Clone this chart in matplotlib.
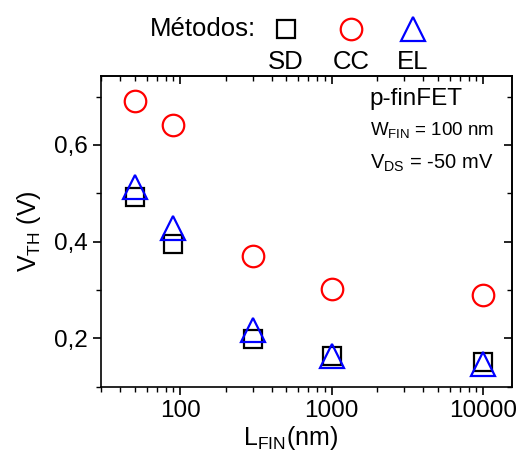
import numpy as np
import matplotlib.pyplot as plt
from matplotlib.ticker import FixedLocator, FuncFormatter, NullFormatter

plt.rcParams['font.family'] = ['Liberation Sans', 'DejaVu Sans']
plt.rcParams['mathtext.fontset'] = 'custom'
plt.rcParams['mathtext.rm'] = 'Liberation Sans'
plt.rcParams['mathtext.it'] = 'Liberation Sans'

l_fin = [50, 90, 300, 1000, 10000]
vth_sd = [0.493, 0.395, 0.198, 0.163, 0.152]
vth_cc = [0.690, 0.642, 0.371, 0.303, 0.290]
vth_el = [0.514, 0.428, 0.217, 0.163, 0.148]

methods = ['SD', 'CC', 'EL']
styles = [('s', 'black', 12.5), ('o', 'red', 15.5), ('^', 'blue', 17.5)]

fig = plt.figure(figsize=(5.21, 4.54), dpi=100)
ax = fig.add_axes([0.194, 0.148, 0.789, 0.685])

for vals, (m, c, ms) in zip([vth_sd, vth_cc, vth_el], styles):
    ax.plot(l_fin, vals, linestyle='none', marker=m, markersize=ms,
            markerfacecolor='none', markeredgecolor=c, markeredgewidth=1.6)

ax.set_xscale('log')
ax.set_xlim(30, 15500)
ax.set_ylim(0.1, 0.743)
ax.yaxis.set_major_locator(FixedLocator([0.2, 0.4, 0.6]))
ax.yaxis.set_minor_locator(FixedLocator([0.1, 0.3, 0.5, 0.7]))
ax.yaxis.set_major_formatter(FuncFormatter(lambda v, p: f'{v:.1f}'.replace('.', ',')))
ax.xaxis.set_major_formatter(FuncFormatter(lambda v, p: f'{int(round(v))}'))
ax.xaxis.set_minor_formatter(NullFormatter())

for s in ax.spines.values():
    s.set_linewidth(1.2)
ax.tick_params(which='major', direction='out', length=6, width=1.2, labelsize=17.5)
ax.tick_params(which='minor', direction='out', length=3.5, width=1.0)

top = ax.secondary_xaxis('top')
top.tick_params(which='major', direction='in', length=6, width=1.2, labeltop=False)
top.tick_params(which='minor', direction='in', length=3.5, width=1.0)
top.xaxis.set_major_formatter(NullFormatter())
top.xaxis.set_minor_formatter(NullFormatter())
right = ax.secondary_yaxis('right')
right.yaxis.set_major_locator(FixedLocator([0.2, 0.4, 0.6]))
right.yaxis.set_minor_locator(FixedLocator([0.1, 0.3, 0.5, 0.7]))
right.tick_params(which='major', direction='in', length=6, width=1.2, labelright=False)
right.tick_params(which='minor', direction='in', length=3.5, width=1.0)
for s in list(top.spines.values()) + list(right.spines.values()):
    s.set_linewidth(1.2)

ax.set_xlabel(r'L$_{\mathregular{FIN}}$(nm)', fontsize=18)
ax.xaxis.set_label_coords(0.46, -0.118)
ax.set_ylabel(r'V$_{\mathregular{TH}}$ (V)', fontsize=18, labelpad=8)

ax.text(0.654, 0.926, 'p-finFET', transform=ax.transAxes, fontsize=17.5, va='center')
ax.text(0.654, 0.826, r'W$_{\mathregular{FIN}}$ = 100 nm', transform=ax.transAxes, fontsize=13.5, va='center')
ax.text(0.654, 0.72, r'V$_{\mathregular{DS}}$ = -50 mV', transform=ax.transAxes, fontsize=14.5, va='center')

# legend drawn by hand: markers on top row, names below
fig.text(203 / 521, 1 - 29 / 454, 'Métodos:', fontsize=18.5, ha='center', va='center')
leg_x = [286 / 521, 351 / 521, 413 / 521]
for name, (m, c, ms), lx in zip(methods, styles, leg_x):
    fig.add_artist(plt.Line2D([lx], [1 - 29 / 454], linestyle='none', marker=m, markersize=ms,
                              markerfacecolor='none', markeredgecolor=c, markeredgewidth=1.6))
    fig.text(lx, 1 - 62 / 454, name, fontsize=18.5, ha='center', va='center')

fig.savefig('out.png', dpi=100)
